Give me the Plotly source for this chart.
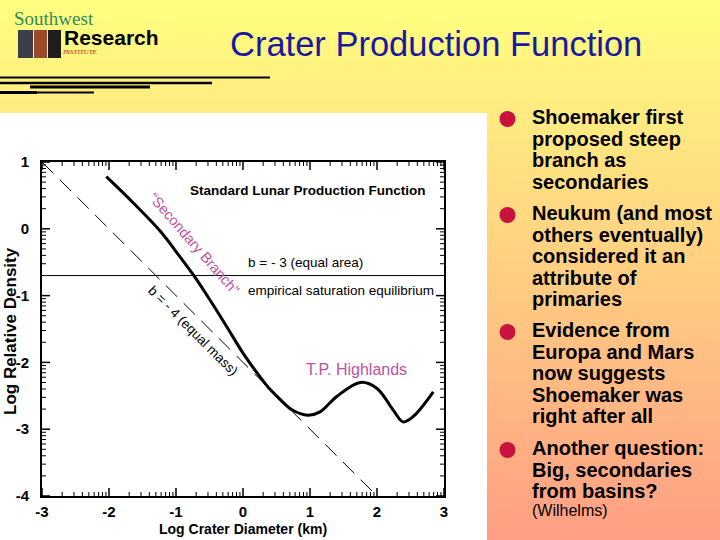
import math
import plotly.graph_objects as go

# ---------------- data ----------------
curve_x = [-2.04, -1.64, -1.24, -0.94, -0.72, -0.49, -0.24, 0.0, 0.25, 0.40, 0.50,
           0.73, 0.97, 1.15, 1.40, 1.75, 2.00, 2.24, 2.39, 2.54, 2.84]
curve_y = [0.78, 0.39, -0.03, -0.42, -0.72, -1.07, -1.47, -1.86, -2.21, -2.40, -2.50,
           -2.71, -2.79, -2.74, -2.51, -2.30, -2.39, -2.71, -2.89, -2.81, -2.44]
mass_x = [-3, 2]          # b = -4 (equal mass) reference line
mass_y = [1, -4]
sat_x = [-3, 3]           # empirical saturation equilibrium (b = -3)
sat_y = [-0.7, -0.7]

x_ticks = [-3, -2, -1, 0, 1, 2, 3]
x_ticklabels = ["-3", "-2", "-1", "0", "1", "2", "3"]
y_ticks = [1, 0, -1, -2, -3, -4]
y_ticklabels = ["1", "0", "-1", "-2", "-3", "-4"]
minor_steps = [2, 3, 4, 5, 6, 7, 8, 9]

bullets = [
    ["Shoemaker first", "proposed steep", "branch as", "secondaries"],
    ["Neukum (and most", "others eventually)", "considered it an", "attribute of", "primaries"],
    ["Evidence from", "Europa and Mars", "now suggests", "Shoemaker was", "right after all"],
    ["Another question:", "Big, secondaries", "from basins?"],
]
bullet_top = [117, 213, 330, 448]

# ---------------- geometry helpers ----------------
W, H = 720, 540
L, R, T, B = 42, 444, 162, 496
PW, PH = R - L, B - T
XR, YR = [-3, 3], [-4, 1]


def px(x):
    return (x - L) / PW


def py(y):
    return (B - y) / PH


ARIAL = "Liberation Sans, Arial, sans-serif"

fig = go.Figure()
fig.add_trace(go.Scatter(x=mass_x, y=mass_y, mode="lines",
                         line=dict(color="black", width=1, dash="16px,9px"),
                         hoverinfo="skip"))
fig.add_trace(go.Scatter(x=sat_x, y=sat_y, mode="lines",
                         line=dict(color="black", width=1), hoverinfo="skip"))
fig.add_trace(go.Scatter(x=curve_x, y=curve_y, mode="lines",
                         line=dict(color="black", width=3, shape="spline", smoothing=1.0),
                         hoverinfo="skip"))

# ---- inside tick marks on all four sides (log-style minor ticks) ----
x_minor = [n + math.log10(k) for n in range(XR[0], XR[1]) for k in minor_steps]
y_minor = [n + math.log10(k) for n in range(YR[0], YR[1]) for k in minor_steps]
ux = (XR[1] - XR[0]) / PW   # data units per pixel, x
uy = (YR[1] - YR[0]) / PH   # data units per pixel, y


def tick_segments(xv, yv, length_px):
    xs, ys = [], []
    for v in xv:  # bottom and top
        xs += [v, v, None, v, v, None]
        ys += [YR[0], YR[0] + length_px * uy, None, YR[1], YR[1] - length_px * uy, None]
    for v in yv:  # left and right
        xs += [XR[0], XR[0] + length_px * ux, None, XR[1], XR[1] - length_px * ux, None]
        ys += [v, v, None, v, v, None]
    return xs, ys


for xv, yv, ln, wd in [(x_ticks, y_ticks, 8, 1.5), (x_minor, y_minor, 4, 1)]:
    tx, ty = tick_segments(xv, yv, ln)
    fig.add_trace(go.Scatter(x=tx, y=ty, mode="lines", line=dict(color="black", width=wd),
                             hoverinfo="skip", cliponaxis=False))

tickfont = dict(family=ARIAL, size=15, color="black", weight="bold")

fig.update_layout(
    xaxis=dict(range=XR, tickmode="array", tickvals=x_ticks, ticktext=x_ticklabels,
               ticks="", showline=True, linewidth=2, linecolor="black", mirror=True,
               showgrid=False, zeroline=False, tickfont=tickfont, ticklabelstandoff=1),
    yaxis=dict(range=YR, tickmode="array", tickvals=y_ticks, ticktext=y_ticklabels,
               ticks="", showline=True, linewidth=2, linecolor="black", mirror=True,
               showgrid=False, zeroline=False, tickfont=tickfont, ticklabelstandoff=8),
)

shapes = []
# slide background: vertical yellow -> salmon gradient (bands)
top_rgb, bot_rgb = (255, 255, 128), (255, 158, 132)
nb = 54
for i in range(nb):
    f = (i + 0.5) / nb
    c = tuple(round(a + (b - a) * f) for a, b in zip(top_rgb, bot_rgb))
    y0p, y1p = i * H / nb, (i + 1) * H / nb + 0.6
    shapes.append(dict(type="rect", xref="paper", yref="paper", x0=px(0), x1=px(W),
                       y0=py(y1p), y1=py(y0p), line=dict(width=0),
                       fillcolor="rgb(%d,%d,%d)" % c, layer="below"))
# white picture panel
shapes.append(dict(type="rect", xref="paper", yref="paper", x0=px(0), x1=px(487),
                   y0=py(540), y1=py(113), line=dict(width=0), fillcolor="white",
                   layer="below"))
# decorative black rules under the logo
for (x0, x1, y, w) in [(0, 270, 77.5, 2), (0, 212, 83, 2.5), (30, 150, 87, 3),
                       (0, 94, 92.5, 2), (0, 37, 92.5, 3)]:
    shapes.append(dict(type="line", xref="paper", yref="paper", x0=px(x0), x1=px(x1),
                       y0=py(y), y1=py(y), line=dict(color="black", width=w)))
# logo photo strip
for (x0, x1, c) in [(18, 33, "#3b3f48"), (34, 47, "#9a4a28"), (48, 61, "#1e1e1e")]:
    shapes.append(dict(type="rect", xref="paper", yref="paper", x0=px(x0), x1=px(x1),
                       y0=py(58), y1=py(30), line=dict(width=0), fillcolor=c))
# bullets
for yb in bullet_top:
    yc = yb + 2
    shapes.append(dict(type="circle", xref="paper", yref="paper", x0=px(499.5), x1=px(515.5),
                       y0=py(yc + 8), y1=py(yc - 8), line=dict(width=0), fillcolor="#C8143C"))
fig.update_layout(shapes=shapes)

ann = []
# slide title and logo
ann.append(dict(text="Crater Production Function", x=px(436), y=py(44), xref="paper", yref="paper",
                showarrow=False, xanchor="center", yanchor="middle",
                font=dict(family=ARIAL, size=34.5, color="#1A1A9E")))
ann.append(dict(text="Southwest", x=px(12), y=py(19), xref="paper", yref="paper",
                showarrow=False, xanchor="left", yanchor="middle",
                font=dict(family="Liberation Serif, Times New Roman, serif", size=19, color="#2E8B5A")))
ann.append(dict(text="Research", x=px(62), y=py(37), xref="paper", yref="paper",
                showarrow=False, xanchor="left", yanchor="middle",
                font=dict(family=ARIAL, size=21, color="black", weight="bold")))
ann.append(dict(text="<i>INSTITUTE</i>", x=px(60), y=py(52), xref="paper", yref="paper",
                showarrow=False, xanchor="left", yanchor="middle",
                font=dict(family="Liberation Serif, serif", size=7, color="#B02020")))
# bullets text
LS = 21.6
for lines, yb in zip(bullets, bullet_top):
    for i, t in enumerate(lines):
        ann.append(dict(text=t, x=px(530), y=py(yb + i * LS), xref="paper", yref="paper",
                        showarrow=False, xanchor="left", yanchor="middle",
                        font=dict(family=ARIAL, size=20, color="black", weight="bold")))
ann.append(dict(text="(Wilhelms)", x=px(530), y=py(510), xref="paper", yref="paper",
                showarrow=False, xanchor="left", yanchor="middle",
                font=dict(family=ARIAL, size=16, color="black")))
# axis titles
ann.append(dict(text="Log Crater Diameter (km)", x=px(243), y=py(529), xref="paper", yref="paper",
                showarrow=False, xanchor="center", yanchor="middle",
                font=dict(family=ARIAL, size=14, color="black", weight="bold")))
ann.append(dict(text="Log Relative Density", x=px(10), y=py(331), xref="paper", yref="paper",
                showarrow=False, xanchor="center", yanchor="middle", textangle=-90,
                font=dict(family=ARIAL, size=17, color="black", weight="bold")))
# in-chart labels
ann.append(dict(text="Standard Lunar Production Function", x=2.76, y=0.57, xref="x", yref="y",
                showarrow=False, xanchor="right", yanchor="middle",
                font=dict(family=ARIAL, size=13.5, color="black", weight="bold")))
ann.append(dict(text="b = - 3 (equal area)", x=0.05, y=-0.50, xref="x", yref="y",
                showarrow=False, xanchor="left", yanchor="middle",
                font=dict(family=ARIAL, size=13.5, color="black")))
ann.append(dict(text="empirical saturation equilibrium", x=0.05, y=-0.92, xref="x", yref="y",
                showarrow=False, xanchor="left", yanchor="middle",
                font=dict(family=ARIAL, size=13.5, color="black")))
ann.append(dict(text="T.P. Highlands", x=0.91, y=-2.11, xref="x", yref="y",
                showarrow=False, xanchor="left", yanchor="middle",
                font=dict(family=ARIAL, size=16, color="#BE50A0")))
ann.append(dict(text="\u201cSecondary Branch\u201d", x=-0.72, y=-0.22, xref="x", yref="y",
                showarrow=False, xanchor="center", yanchor="middle", textangle=49,
                font=dict(family=ARIAL, size=14.5, color="#BE50A0")))
ann.append(dict(text="b = - 4 (equal mass)", x=-0.75, y=-1.52, xref="x", yref="y",
                showarrow=False, xanchor="center", yanchor="middle", textangle=45,
                font=dict(family=ARIAL, size=13.5, color="black")))

fig.update_layout(width=W, height=H, margin=dict(l=L, r=W - R, t=T, b=H - B, autoexpand=False),
                  paper_bgcolor="white", plot_bgcolor="rgba(0,0,0,0)", showlegend=False,
                  annotations=ann)

fig.write_html("out.html")
